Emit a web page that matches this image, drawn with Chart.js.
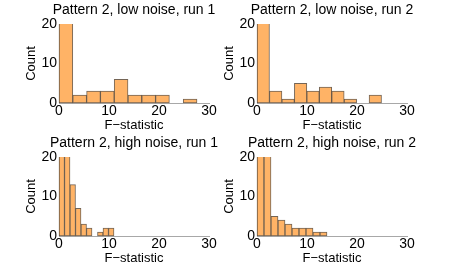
<!DOCTYPE html>
<html>
<head>
<meta charset="utf-8">
<script src="https://cdn.jsdelivr.net/npm/chart.js@4"></script>
<style>
  html, body { margin: 0; padding: 0; background: #fff; overflow: hidden; }
  #wrap { position: relative; width: 450px; height: 266px; overflow: hidden; }
  canvas { position: absolute; }
</style>
</head>
<body>
<div id="wrap">
  <canvas id="c1" width="268" height="140" style="left:0px;top:0px"></canvas>
  <canvas id="c2" width="268" height="140" style="left:198px;top:0px"></canvas>
  <canvas id="c3" width="268" height="140" style="left:0px;top:133px"></canvas>
  <canvas id="c4" width="268" height="140" style="left:198px;top:133px"></canvas>
</div>
<script>
// Заголовки панелей
var titles = [
  "Pattern 2, low noise, run 1",
  "Pattern 2, low noise, run 2",
  "Pattern 2, high noise, run 1",
  "Pattern 2, high noise, run 2"
];

// Центры интервалов гистограмм (F-statistic)
var bins1 = [1.38, 4.14, 6.90, 9.66, 12.42, 15.18, 17.94, 20.70, 23.46, 26.22];
var bins2 = [1.25, 3.74, 6.23, 8.72, 11.21, 13.70, 16.19, 18.68, 21.17, 23.66];
var bins3 = [0.55, 1.65, 2.75, 3.85, 4.95, 6.05, 7.15, 8.25, 9.35, 10.45];
var bins4 = [0.70, 2.10, 3.50, 4.90, 6.30, 7.70, 9.10, 10.50, 11.90, 13.30];

// Количество (первые столбцы выходят за предел 20)
var counts1 = [29, 2, 3, 3, 6, 2, 2, 2, 0, 1];
var counts2 = [28, 3, 1, 5, 3, 4, 3, 1, 0, 2];
var counts3 = [24, 22, 13, 7, 3, 2, 0, 1, 2, 2];
var counts4 = [23, 25, 5, 4, 3, 2, 2, 2, 1, 1];

var xTicks = [0, 10, 20, 30];
var yTicks = [0, 10, 20];

var allBins = [bins1, bins2, bins3, bins4];
var allCounts = [counts1, counts2, counts3, counts4];

var font = "'Liberation Sans', Arial, sans-serif";

function makeChart(id, title, bins, counts) {
  var ctx = document.getElementById(id).getContext("2d");
  var points = bins.map(function (b, i) { return { x: b, y: counts[i] }; });
  return new Chart(ctx, {
    type: 'bar',
    data: {
      datasets: [{
        data: points,
        backgroundColor: "#FFB366",
        borderColor: "rgba(70,50,30,0.75)",
        borderWidth: 1,
        borderSkipped: false,
        barPercentage: 1.0,
        categoryPercentage: 1.0,
        clip: { left: 1, right: 1, top: 0, bottom: 1 }
      }]
    },
    options: {
      responsive: false,
      animation: false,
      layout: { padding: 0 },
      scales: {
        x: {
          type: 'linear',
          min: 0,
          max: 30,
          offset: false,
          afterBuildTicks: function (s) { s.ticks = xTicks.map(function (v) { return { value: v }; }); },
          afterFit: function (s) { s.height = 37; },
          grid: { display: false, drawTicks: false },
          border: { display: true, color: "#a8a8a8", width: 1 },
          ticks: { color: "#000", padding: 0, maxRotation: 0, font: { size: 14, family: font } },
          title: { display: true, text: "F\u2212statistic", color: "#000", padding: { top: 0, bottom: 6.5 }, font: { size: 13, family: font } }
        },
        y: {
          min: 0,
          max: 20,
          afterBuildTicks: function (s) { s.ticks = yTicks.map(function (v) { return { value: v }; }); },
          afterFit: function (s) { s.width = 59; },
          grid: { display: false, drawTicks: false },
          border: { display: true, color: "#a8a8a8", width: 1 },
          ticks: { color: "#000", padding: 2, font: { size: 14, family: font } },
          title: { display: true, text: "Count", color: "#000", padding: { top: 24, bottom: 0 }, font: { size: 13, family: font } }
        },
        y2: {
          position: 'right',
          display: true,
          afterFit: function (s) { s.width = 59; },
          grid: { display: false, drawTicks: false },
          border: { display: false },
          ticks: { display: false }
        }
      },
      plugins: {
        legend: { display: false },
        tooltip: { enabled: false },
        title: {
          display: true,
          text: title,
          color: "#000",
          padding: { top: 2, bottom: 5.2 },
          font: { size: 14, weight: 'normal', family: font }
        }
      }
    }
  });
}

for (var i = 0; i < 4; i++) {
  makeChart("c" + (i + 1), titles[i], allBins[i], allCounts[i]);
}
</script>
</body>
</html>
